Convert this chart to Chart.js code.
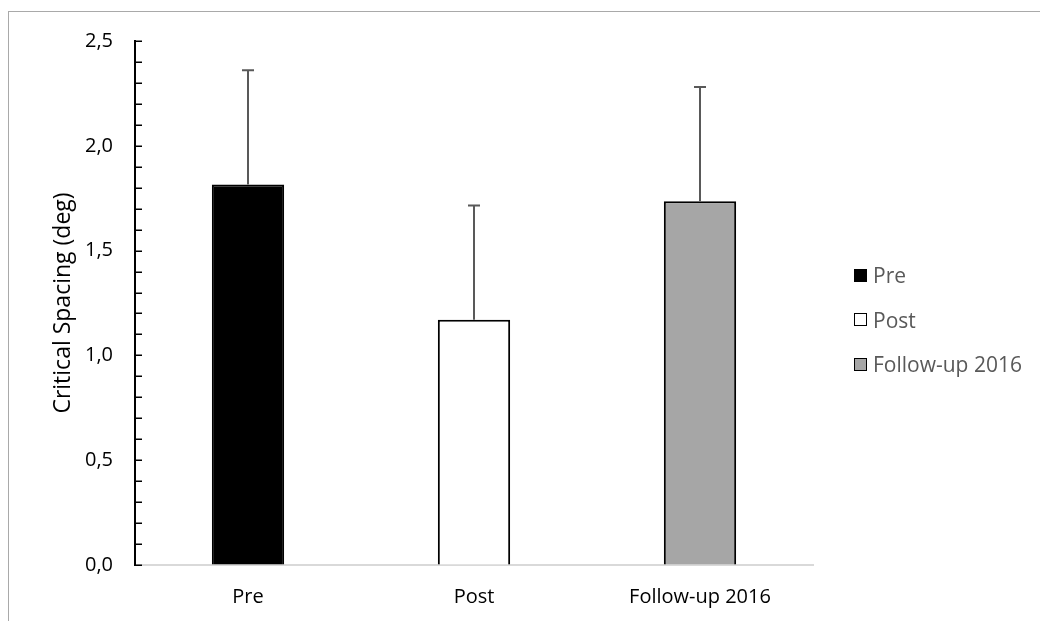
<!DOCTYPE html>
<html>
<head>
<meta charset="utf-8">
<script src="https://cdn.jsdelivr.net/npm/chart.js@4"></script>
<style>
    body { margin: 0; background: #fff; font-family: "Open Sans", sans-serif; }
    #wrap { position: relative; width: 1040px; height: 621px; overflow: hidden; }
    #frame { position: absolute; left: 8px; top: 11px; width: 1100px; height: 700px; border: 1.5px solid #a9a9a9; }
    #chart { position: absolute; left: 0; top: 0; }
    #legend { position: absolute; left: 854px; top: 253px; }
    .legend-item { display: flex; align-items: center; height: 44.5px; font-size: 21px; color: #595959; }
    .legend-swatch { width: 11px; height: 11px; border: 1.5px solid #000; margin-right: 6px; }
</style>
</head>
<body>
<div id="wrap">
    <div id="frame"></div>
    <canvas id="chart" width="1040" height="621"></canvas>
    <div id="legend"></div>
</div>
<script>
const categories = ["Pre", "Post", "Follow-up 2016"];
const means = [1.815, 1.17, 1.735];
const errors = [0.545, 0.545, 0.545];
const barColors = ["#000000", "#ffffff", "#a6a6a6"];

const yTicks = [0, 0.5, 1, 1.5, 2, 2.5];

function formatTick(v) {
    return v.toFixed(1).replace(".", ",");
}

const errorBarPlugin = {
    id: "errorBars",
    afterDatasetsDraw(chart) {
        const ctx = chart.ctx;
        const meta = chart.getDatasetMeta(0);
        const yScale = chart.scales.y;
        ctx.save();
        ctx.strokeStyle = "#595959";
        ctx.lineWidth = 2;
        meta.data.forEach((bar, i) => {
            const top = yScale.getPixelForValue(means[i] + errors[i]);
            const base = yScale.getPixelForValue(means[i]);
            ctx.beginPath();
            ctx.moveTo(bar.x, base);
            ctx.lineTo(bar.x, top);
            ctx.moveTo(bar.x - 6, top);
            ctx.lineTo(bar.x + 6, top);
            ctx.stroke();
        });
        ctx.restore();
    }
};

const innerTicksPlugin = {
    id: "innerTicks",
    afterDraw(chart) {
        const ctx = chart.ctx;
        const yScale = chart.scales.y;
        const x = chart.chartArea.left;
        ctx.save();
        ctx.strokeStyle = "#000";
        ctx.lineWidth = 1.5;
        yScale.ticks.forEach((t) => {
            const y = Math.round(yScale.getPixelForValue(t.value)) + 0.25;
            ctx.beginPath();
            ctx.moveTo(x, y);
            ctx.lineTo(x + 7, y);
            ctx.stroke();
        });
        ctx.restore();
    }
};

new Chart(document.getElementById("chart"), {
    type: "bar",
    data: {
        labels: categories,
        datasets: [
            {
                data: means,
                backgroundColor: barColors,
                borderColor: "#000",
                borderWidth: 2,
                barPercentage: 0.32,
                categoryPercentage: 1
            }
        ]
    },
    options: {
        responsive: false,
        animation: false,
        layout: { padding: { top: 41, right: 227, bottom: 0, left: 0 } },
        plugins: {
            legend: { display: false },
            tooltip: { enabled: false }
        },
        scales: {
            x: {
                grid: { display: true, drawOnChartArea: false, drawTicks: false },
                border: { display: true, color: "#d9d9d9", width: 2 },
                ticks: {
                    color: "#000",
                    padding: 20,
                    font: { family: "Open Sans", size: 20 }
                },
                afterFit(scale) { scale.height = 56; }
            },
            y: {
                min: 0,
                max: 2.5,
                grid: { display: true, drawOnChartArea: false, drawTicks: false },
                border: { display: true, color: "#000", width: 2 },
                ticks: {
                    stepSize: 0.1,
                    autoSkip: false,
                    color: "#000",
                    padding: 22,
                    font: { family: "Open Sans", size: 20 },
                    callback: (v) => {
                        const r = Math.round(v * 10) / 10;
                        return yTicks.some((t) => Math.abs(t - r) < 1e-6) ? formatTick(r) : "";
                    }
                },
                title: {
                    display: true,
                    text: "Critical Spacing (deg)",
                    color: "#000",
                    font: { family: "Open Sans", size: 23 },
                    padding: { top: 50, bottom: 0 }
                },
                afterFit(scale) { scale.width = 135; }
            }
        }
    },
    plugins: [errorBarPlugin, innerTicksPlugin]
});

document.getElementById("legend").innerHTML = categories
    .map((label, idx) => `
        <div class="legend-item">
            <span class="legend-swatch" style="background:${barColors[idx]}"></span>
            <span>${label}</span>
        </div>`)
    .join("");
</script>
</body>
</html>
